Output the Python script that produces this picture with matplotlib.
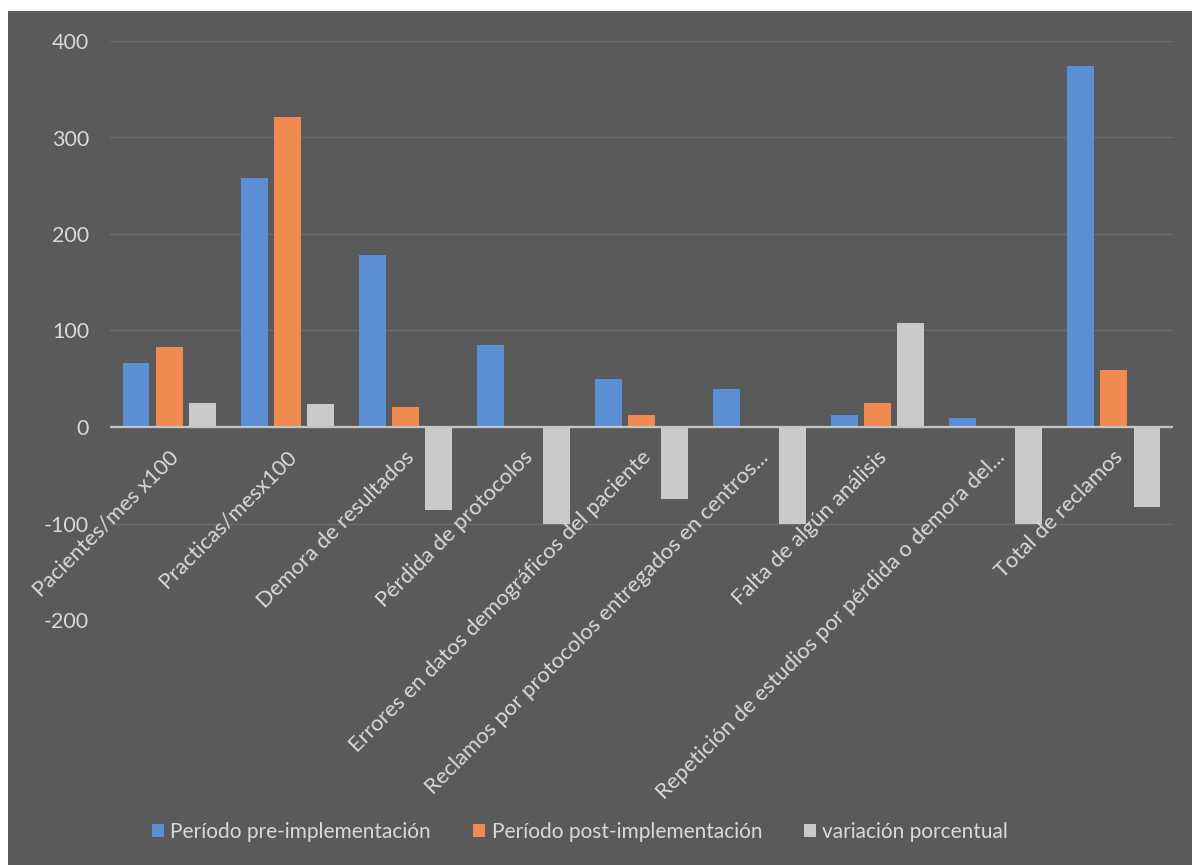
import matplotlib
matplotlib.use("Agg")
import matplotlib.pyplot as plt
from matplotlib.patches import Rectangle
from matplotlib.transforms import offset_copy
import numpy as np

categories = [
    "Pacientes/mes x100",
    "Practicas/mesx100",
    "Demora de resultados",
    "Pérdida de protocolos",
    "Errores en datos demográficos del paciente",
    "Reclamos por protocolos entregados en centros...",
    "Falta de algún análisis",
    "Repetición de estudios por pérdida o demora del...",
    "Total de reclamos",
]
pre_impl = [66, 258, 178, 85, 50, 39, 12, 9, 374]
post_impl = [83, 321, 21, 0, 12, 0, 25, 0, 59]
variacion = [25, 24, -86, -100, -75, -100, 108, -100, -83]
series_names = ["Período pre-implementación", "Período post-implementación", "variación porcentual"]
y_ticks = [-200, -100, 0, 100, 200, 300, 400]

BG = "#5a5a5a"
TXT = "#d9d9d9"
colors = ["#5a8fd3", "#f08a50", "#cacaca"]
FONT = ["Lato", "DejaVu Sans"]

W, H = 1192, 865
fig = plt.figure(figsize=(W / 100, H / 100), dpi=100, facecolor="white")
# dark chart area
fig.patches.append(Rectangle((8 / W, 0), 1 - 8 / W, 1 - 11 / H, transform=fig.transFigure,
                             facecolor=BG, edgecolor="none", zorder=-10))

left, right = 110 / W, 1173 / W
top, bottom = 1 - 41 / H, 1 - 620 / H
ax = fig.add_axes([left, bottom, right - left, top - bottom])
ax.set_facecolor("none")

x = np.arange(len(categories))
bw = 0.228
step = 0.28
for k, (vals, c, name) in enumerate(zip([pre_impl, post_impl, variacion], colors, series_names)):
    ax.bar(x + (k - 1) * step, vals, width=bw, color=c, label=name, zorder=3)

ax.set_xlim(-0.5, len(categories) - 0.5)
ax.set_ylim(-200, 400)
ax.set_yticks(y_ticks)
ax.set_yticklabels([str(t) for t in y_ticks], color=TXT, fontsize=15.5, family=FONT)
ax.tick_params(axis="y", length=0, pad=15)
ax.set_xticks([])
for s in ax.spines.values():
    s.set_visible(False)
ax.grid(axis="y", color="#6c6c6c", linewidth=1.0, zorder=0)
ax.axhline(0, color="#c4c4c4", linewidth=1.6, zorder=4)

tr = offset_copy(ax.transData, fig=fig, x=6, y=-27, units="dots")
for i, lab in enumerate(categories):
    ax.text(i, 0, lab, transform=tr, rotation=45, rotation_mode="anchor",
            ha="right", va="center", color=TXT, fontsize=15.8, family=FONT, clip_on=False)

leg = fig.legend(loc="center", bbox_to_anchor=(580 / W, 1 - 832 / H), ncol=3, frameon=False,
                 handlelength=0.6, handleheight=0.6, handletextpad=0.3, columnspacing=2.0,
                 prop={"family": FONT, "size": 15})
for t in leg.get_texts():
    t.set_color(TXT)

fig.savefig("out.png", dpi=100, facecolor=fig.get_facecolor())
